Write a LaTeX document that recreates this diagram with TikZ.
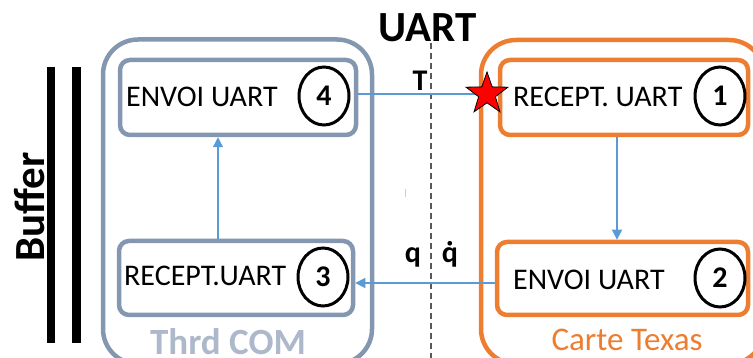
\documentclass[tikz,border=0pt]{standalone}
\usepackage{fontspec}
\setmainfont{Carlito}
\usetikzlibrary{arrows.meta,shapes.geometric}

\definecolor{thrdblue}{HTML}{8497B0}
\definecolor{thrdlight}{HTML}{ADB9CA}
\definecolor{texasorange}{HTML}{ED7D31}
\definecolor{flowblue}{HTML}{5B9BD5}
\definecolor{dashgray}{HTML}{595959}

\tikzset{
  stage/.style={draw, line width=4.5pt, rounded corners=10pt, inner sep=0pt},
  thrdstage/.style={stage, draw=thrdblue},
  texasstage/.style={stage, draw=texasorange},
  stagenum/.style={ellipse, draw=black, line width=3pt, inner sep=0pt,
    minimum width=50pt, minimum height=58pt,
    font=\fontsize{30}{36}\selectfont\bfseries},
  stagetext/.style={anchor=base west, inner sep=0pt,
    font=\fontsize{30}{36}\selectfont},
  flow/.style={draw=flowblue, line width=1.2pt,
    -{Triangle[length=10pt,width=10pt]}},
  busbar/.style={line width=8.5pt, black},
}

\begin{document}
\begin{tikzpicture}[x=1pt,y=-1pt]
  \useasboundingbox (0,0) rectangle (753,358);
  \clip (0,0) rectangle (753,358);

  % enclosing groups
  \draw[thrdblue, line width=4.5pt, rounded corners=35pt]
    (103,39.5) rectangle (372,364);
  \draw[texasorange, line width=4.5pt, rounded corners=35pt]
    (481,40) rectangle (764,364);

  % UART boundary
  \draw[dashgray, line width=1.5pt, dash pattern=on 6pt off 4pt]
    (431,43) -- (431,358);
  \draw[gray!40, line width=1pt] (405,189) -- (405,197);

  % stages
  \node[thrdstage, minimum width=236pt, minimum height=75pt] (b4) at (238,97.5) {};
  \node[thrdstage, minimum width=234pt, minimum height=74pt] (b3) at (236,278) {};
  \node[texasstage, minimum width=248pt, minimum height=75pt] (b1) at (624,97.5) {};
  \node[texasstage, minimum width=251pt, minimum height=73pt] (b2) at (622.5,278.5) {};

  \node[stagetext] at (126,107) {ENVOI UART};
  \node[stagetext] at (124,286) {RECEPT.UART};
  \node[stagetext] at (513,107) {RECEPT. UART};
  \node[stagetext] at (513,290) {ENVOI UART};

  \node[stagenum] (n4) at (324,96) {4};
  \node[stagenum] (n3) at (323,277) {3};
  \node[stagenum] (n1) at (720,96) {1};
  \node[stagenum] (n2) at (720,278) {2};

  % data flow
  \coordinate (c12) at (617,0);
  \coordinate (c34) at (218,0);
  \coordinate (qline) at (0,283);
  \node[star, star points=5, star point ratio=2.5, minimum size=44pt,
        inner sep=0pt] (tx) at (487,94) {};
  \draw[flowblue, line width=1.2pt] (b4.east |- tx) -- (tx.center);
  \node[star, star points=5, star point ratio=2.5, minimum size=44pt,
        inner sep=0pt, fill=red, draw=black, line width=0.8pt] at (tx) {};
  \draw[flow] (b1.south -| c12) -- (b2.north -| c12);
  \draw[flow] (b2.west |- qline) -- (b3.east |- qline);
  \draw[flow] (b3.north -| c34) -- (b4.south -| c34);

  % labels
  \node[anchor=base, inner sep=0pt, font=\fontsize{43}{50}\selectfont\bfseries]
    (uart) at (428,42) {UART};
  \node[anchor=base, inner sep=0pt, font=\fontsize{30}{36}\selectfont\bfseries]
    (tlab) at (420,91) {T};
  \node[anchor=base, inner sep=0pt, font=\fontsize{30}{36}\selectfont\bfseries]
    (qlab) at (413,263) {q};
  \node[anchor=base, inner sep=0pt, font=\fontsize{30}{36}\selectfont\bfseries]
    (qdlab) at (450,263) {\accent"02D9 q};

  \node[anchor=base, inner sep=0pt, text=thrdlight,
        font=\fontsize{37}{44}\selectfont\bfseries] (thrd) at (228,354) {Thrd COM};
  \node[anchor=base, inner sep=0pt, text=texasorange,
        font=\fontsize{33}{40}\selectfont] (texas) at (627,350) {Carte Texas};

  % buffer
  \draw[busbar] (51,67) -- (51,343);
  \draw[busbar] (76.5,67) -- (76.5,343);
  \node[anchor=base, rotate=90, inner sep=0pt,
        font=\fontsize{43}{50}\selectfont\bfseries] (buf) at (45,207) {Buffer};
\end{tikzpicture}
\end{document}
